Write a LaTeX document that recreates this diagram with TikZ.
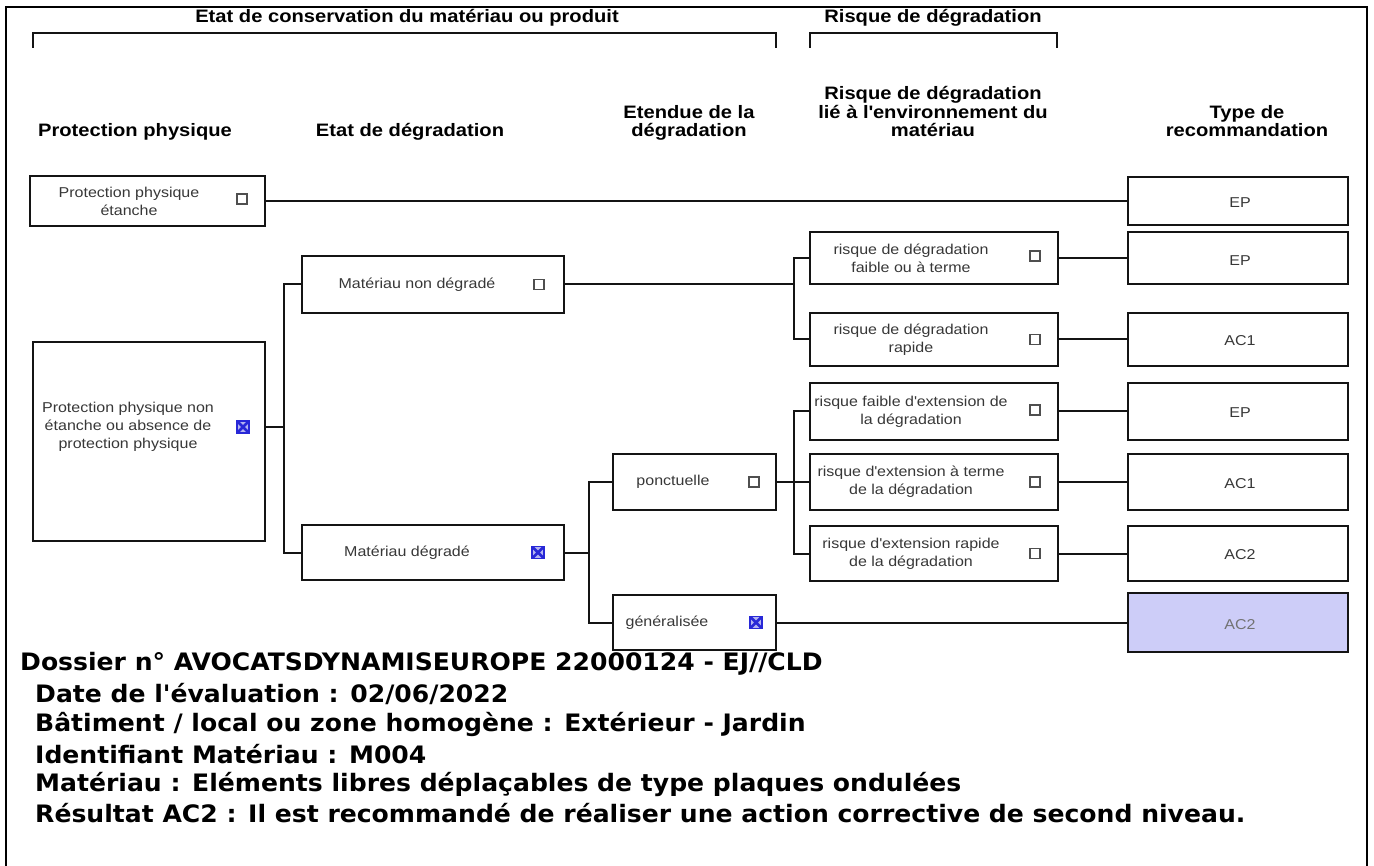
\documentclass[tikz,border=0pt]{standalone}
\usepackage{fontspec}
\setmainfont{Liberation Sans}[FakeStretch=1.12]
\newfontfamily\botfont{DejaVu Sans}[FakeStretch=1.045]
\definecolor{lav}{RGB}{205,205,248}
\definecolor{ink}{RGB}{20,20,20}
\definecolor{chkblue}{RGB}{40,40,215}
\tikzset{
  box/.style={draw=ink, line width=2pt, rectangle, inner sep=0pt},
  lbl/.style={align=center, font=\fontsize{14.3}{18}\selectfont, inner sep=0pt, text=ink!85},
  hdr/.style={align=center, font=\bfseries\fontsize{18}{18.5}\selectfont, inner sep=0pt},
  conn/.style={draw=ink, line width=2pt},
  chk/.style={draw=ink!75, line width=1.1pt, minimum size=10pt, inner sep=0pt},
  chkx/.style={draw=chkblue, fill=chkblue!35, line width=1.2pt, minimum size=12pt, inner sep=0pt,
    path picture={\draw[chkblue, line width=2.6pt]
      (path picture bounding box.north west) -- (path picture bounding box.south east)
      (path picture bounding box.north east) -- (path picture bounding box.south west);}},
  bot/.style={font=\botfont\bfseries\fontsize{24}{30}\selectfont, anchor=west, inner sep=0pt},
  brk/.style={draw=ink, line width=1.6pt},
  frm/.style={draw=black, line width=2.4pt},
}
\begin{document}
\begin{tikzpicture}[x=1pt,y=-1pt]
\useasboundingbox (0,0) rectangle (1374,866);
% frame
\coordinate (f1) at (6,866);
\coordinate (f2) at (6,7);
\coordinate (f3) at (1367,7);
\coordinate (f4) at (1367,866);
\draw[frm] (f1) -- (f2) -- (f3) -- (f4);

% group headers
\node[hdr] (g1) at (407,18) {Etat de conservation du matériau ou produit};
\node[hdr] (g2) at (933,18) {Risque de dégradation};
\coordinate (g1a) at (33,48); \coordinate (g1b) at (33,33);
\coordinate (g1c) at (776,33); \coordinate (g1d) at (776,48);
\draw[brk] (g1a) -- (g1b) -- (g1c) -- (g1d);
\coordinate (g2a) at (810,48); \coordinate (g2b) at (810,33);
\coordinate (g2c) at (1057,33); \coordinate (g2d) at (1057,48);
\draw[brk] (g2a) -- (g2b) -- (g2c) -- (g2d);

% column headers
\node[hdr, anchor=base] (h1) at (135,137) {Protection physique};
\node[hdr, anchor=base] (h2) at (410,137) {Etat de dégradation};
\node[hdr, anchor=base] (h3) at (689,137) {dégradation};
\node[hdr, anchor=base] (h3b) at (689,118.5) {Etendue de la};
\node[hdr, anchor=base] (h4) at (933,137) {matériau};
\node[hdr, anchor=base] (h4b) at (933,118.5) {lié à l\textquotesingle environnement du};
\node[hdr, anchor=base] (h4c) at (933,100) {Risque de dégradation};
\node[hdr, anchor=base] (h5) at (1247,137) {recommandation};
\node[hdr, anchor=base] (h5b) at (1247,118.5) {Type de};

% column 1
\node[box, minimum width=235pt, minimum height=50pt] (P1) at (147.5,201) {};
\node[lbl] (P1t) at (129,201) {Protection physique\\étanche};
\node[chk] (P1c) at (242,199) {};
\node[box, minimum width=232pt, minimum height=199pt] (P2) at (149,441.5) {};
\node[lbl] (P2t) at (128,427) {Protection physique non\\étanche ou absence de\\protection physique};
\node[chkx] (P2c) at (243,427) {};

% column 2
\node[box, minimum width=262pt, minimum height=57pt] (E1) at (433,284.5) {};
\node[lbl] (E1t) at (417,284.5) {Matériau non dégradé};
\node[chk] (E1c) at (539,284.5) {};
\node[box, minimum width=262pt, minimum height=55pt] (E2) at (433,552.5) {};
\node[lbl] (E2t) at (407,552.5) {Matériau dégradé};
\node[chkx] (E2c) at (538,552.5) {};

% column 3
\node[box, minimum width=163pt, minimum height=56pt] (C1) at (694.5,482) {};
\node[lbl] (C1t) at (673,482) {ponctuelle};
\node[chk] (C1c) at (754,482) {};
\node[box, minimum width=163pt, minimum height=55pt] (C2) at (694.5,622.5) {};
\node[lbl] (C2t) at (667,622.5) {généralisée};
\node[chkx] (C2c) at (756,622.5) {};

% column 4
\node[box, minimum width=248pt, minimum height=52pt] (R1) at (934,258) {};
\node[lbl] (R1t) at (911,258) {risque de dégradation\\faible ou à terme};
\node[chk] (R1c) at (1035,256) {};
\node[box, minimum width=248pt, minimum height=53pt] (R2) at (934,339.5) {};
\node[lbl] (R2t) at (911,339.5) {risque de dégradation\\rapide};
\node[chk] (R2c) at (1035,339.5) {};
\node[box, minimum width=248pt, minimum height=57pt] (R3) at (934,411.5) {};
\node[lbl] (R3t) at (911,411.5) {risque faible d\textquotesingle extension de\\la dégradation};
\node[chk] (R3c) at (1035,410) {};
\node[box, minimum width=248pt, minimum height=56pt] (R4) at (934,482) {};
\node[lbl] (R4t) at (911,482) {risque d\textquotesingle extension à terme\\de la dégradation};
\node[chk] (R4c) at (1035,482) {};
\node[box, minimum width=248pt, minimum height=55pt] (R5) at (934,553.5) {};
\node[lbl] (R5t) at (911,553.5) {risque d\textquotesingle extension rapide\\de la dégradation};
\node[chk] (R5c) at (1035,553.5) {};

% column 5
\node[box, minimum width=220pt, minimum height=48pt] (T1) at (1238,201) {};
\node[lbl] (T1t) at (1240,203) {EP};
\node[box, minimum width=220pt, minimum height=52pt] (T2) at (1238,258) {};
\node[lbl] (T2t) at (1240,261) {EP};
\node[box, minimum width=220pt, minimum height=53pt] (T3) at (1238,339.5) {};
\node[lbl] (T3t) at (1240,341) {AC1};
\node[box, minimum width=220pt, minimum height=57pt] (T4) at (1238,411.5) {};
\node[lbl] (T4t) at (1240,413) {EP};
\node[box, minimum width=220pt, minimum height=56pt] (T5) at (1238,482) {};
\node[lbl] (T5t) at (1240,484) {AC1};
\node[box, minimum width=220pt, minimum height=55pt] (T6) at (1238,553.5) {};
\node[lbl] (T6t) at (1240,555) {AC2};
\node[box, fill=lav, minimum width=220pt, minimum height=59pt] (T7) at (1238,622.5) {};
\node[lbl, text=ink!60] (T7t) at (1240,625) {AC2};

% bus coordinates
\coordinate (b1) at (284,0);
\coordinate (b3) at (589,0);
\coordinate (b2) at (794,0);

% connectors
\draw[conn] (P1.east) -- (T1.west);
\draw[conn] (P2.east |- P2t) -- (b1 |- P2t);
\draw[conn] (E1.west) -- (E1.west -| b1) -- (E2.west -| b1) -- (E2.west);
\draw[conn] (E1.east) -- (E1.east -| b2);
\draw[conn] (R1.west) -- (R1.west -| b2) -- (R2.west -| b2) -- (R2.west);
\draw[conn] (E2.east) -- (E2.east -| b3);
\draw[conn] (C1.west) -- (C1.west -| b3) -- (C2.west -| b3) -- (C2.west);
\draw[conn] (C1.east) -- (C1.east -| b2);
\draw[conn] (R3.west) -- (R3.west -| b2) -- (R5.west -| b2) -- (R5.west);
\draw[conn] (R4.west) -- (R4.west -| b2);
\draw[conn] (R1.east) -- (T2.west);
\draw[conn] (R2.east) -- (T3.west);
\draw[conn] (R3.east) -- (T4.west);
\draw[conn] (R4.east) -- (T5.west);
\draw[conn] (R5.east) -- (T6.west);
\draw[conn] (C2.east) -- (T7.west);

% bottom text
\node[bot] (d1) at (20,664) {Dossier n° AVOCATSDYNAMISEUROPE 22000124 - EJ//CLD};
\node[bot] (d2) at (35,694) {Date de l'évaluation : 02/06/2022};
\node[bot] (d3) at (35,724) {Bâtiment / local ou zone homogène : Extérieur - Jardin};
\node[bot] (d4) at (35,754) {Identifiant Matériau : M004};
\node[bot] (d5) at (35,784) {Matériau : Eléments libres déplaçables de type plaques ondulées};
\node[bot] (d6) at (35,813) {Résultat AC2 : Il est recommandé de réaliser une action corrective de second niveau.};
\end{tikzpicture}
\end{document}
